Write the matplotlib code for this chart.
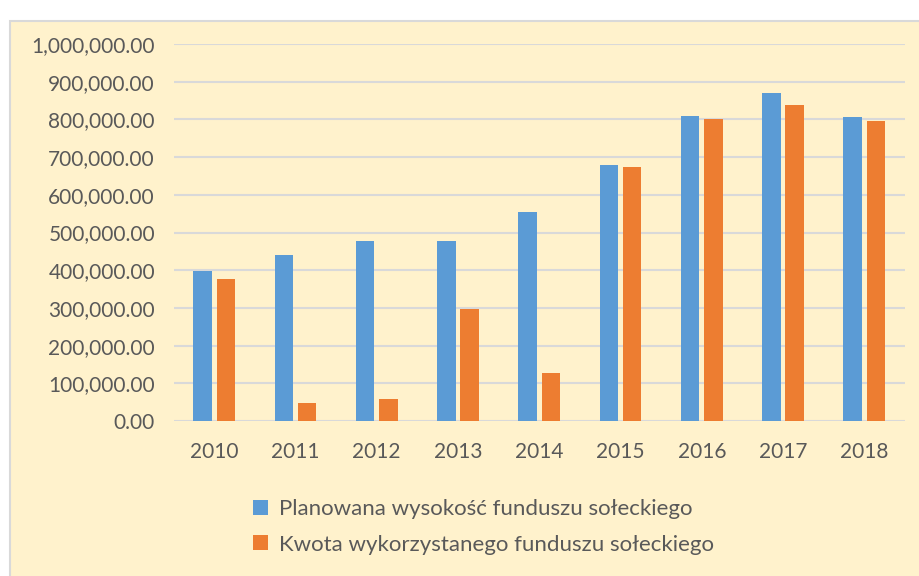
import numpy as np
import matplotlib
matplotlib.use('Agg')
import matplotlib.pyplot as plt
from matplotlib.patches import Rectangle
from matplotlib.ticker import FuncFormatter

# ---- data ----
years = ['2010', '2011', '2012', '2013', '2014', '2015', '2016', '2017', '2018']
planned = [398000, 440000, 478000, 478000, 555000, 679000, 809000, 871000, 807000]
used = [377000, 47000, 58000, 296000, 128000, 675000, 801000, 838000, 796000]
labels = ['Planowana wysokość funduszu sołeckiego',
          'Kwota wykorzystanego funduszu sołeckiego']

BLUE = '#5B9BD5'
ORANGE = '#ED7D31'
TXT = '#595959'
GRID = '#D9D9D9'
plt.rcParams['font.family'] = ['Lato', 'DejaVu Sans']

fig = plt.figure(figsize=(9.2, 5.76), dpi=100)
fig.patch.set_facecolor('white')

# chart area background (Excel style), kept behind the axes
bg = Rectangle((10 / 920, -0.01), 1.0, 0.984 - 0.01, transform=fig.transFigure,
               facecolor='#FFF2CC', edgecolor=GRID, lw=1.5, zorder=-10)
fig.patches.append(bg)

ax = fig.add_axes([0.1887, 0.269, 0.7949, 0.6546])
ax.set_facecolor('none')

x = np.arange(len(years))
w = 0.228
ax.bar(x - 0.143, planned, w, color=BLUE, label=labels[0], zorder=3)
ax.bar(x + 0.143, used, w, color=ORANGE, label=labels[1], zorder=3)

ax.set_xlim(-0.5, len(years) - 0.5)
ax.set_ylim(0, 1000000)
ax.set_yticks(np.arange(0, 1000001, 100000))
ax.yaxis.set_major_formatter(FuncFormatter(lambda v, p: f'{v:,.2f}'))
ax.set_xticks(x)
ax.set_xticklabels(years)
ax.tick_params(axis='both', length=0, labelsize=15, labelcolor=TXT)
ax.tick_params(axis='y', pad=13.4)
ax.tick_params(axis='x', pad=15)
ax.grid(axis='y', color=GRID, lw=1.5, zorder=0)
for s in ax.spines.values():
    s.set_visible(False)

ax.legend(loc='center left', bbox_to_anchor=(253 / 920, 1 - 527 / 576),
          bbox_transform=fig.transFigure, frameon=False, fontsize=16,
          labelcolor=TXT, handlelength=0.68, handleheight=0.68,
          handletextpad=0.5, labelspacing=0.68, borderaxespad=0, borderpad=0)

fig.savefig('out.png', dpi=100)
